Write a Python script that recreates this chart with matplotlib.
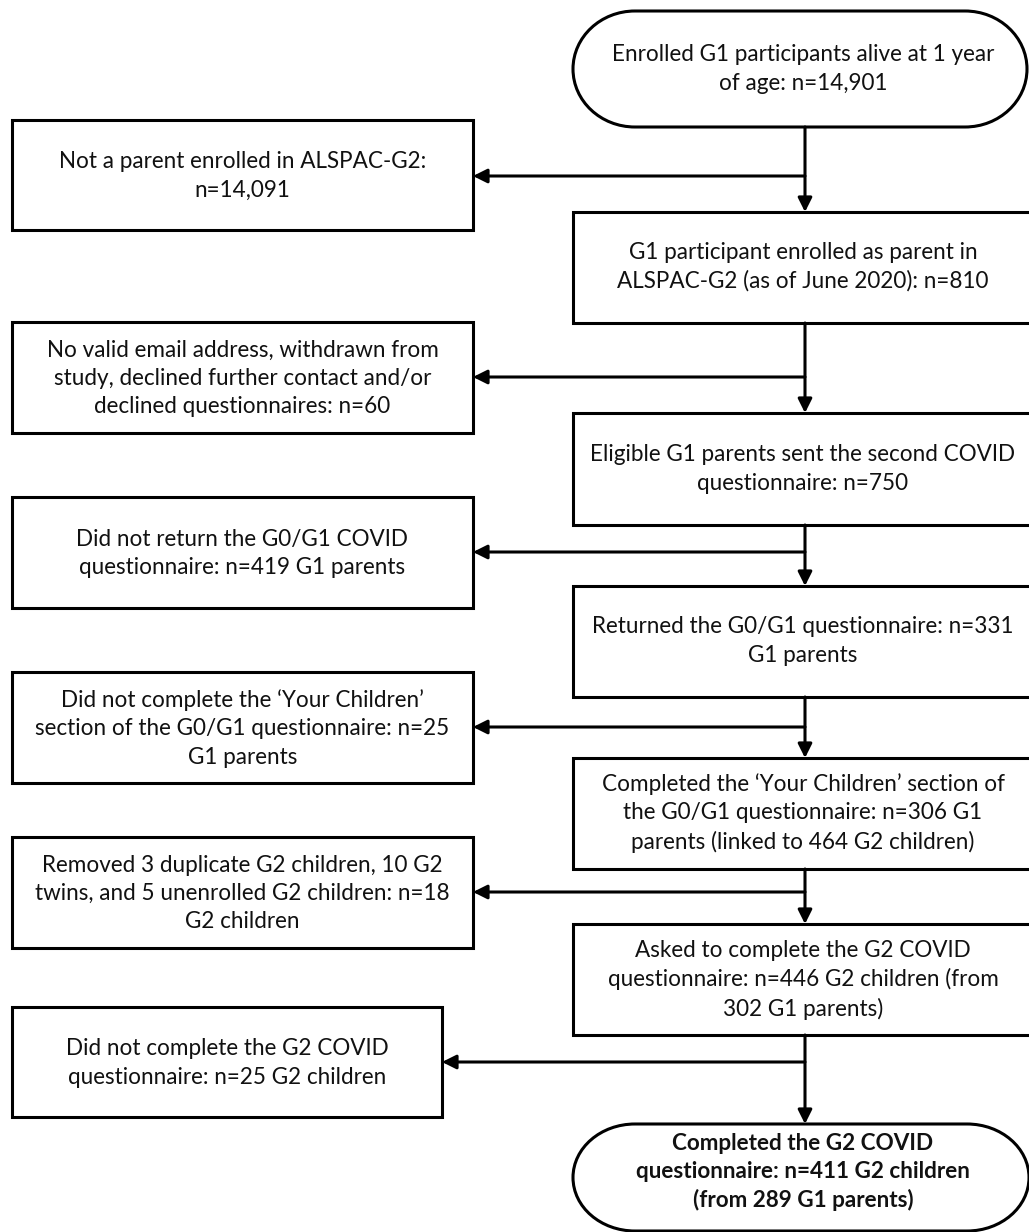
import matplotlib
matplotlib.use("Agg")
import matplotlib.pyplot as plt
from matplotlib.patches import Rectangle, PathPatch
from matplotlib.path import Path

# ---------------- data (texts) ----------------
main_texts = [
    "Enrolled G1 participants alive at 1 year\nof age: n=14,901",
    "G1 participant enrolled as parent in\nALSPAC-G2 (as of June 2020): n=810",
    "Eligible G1 parents sent the second COVID\nquestionnaire: n=750",
    "Returned the G0/G1 questionnaire: n=331\nG1 parents",
    "Completed the \u2018Your Children\u2019 section of\nthe G0/G1 questionnaire: n=306 G1\nparents (linked to 464 G2 children)",
    "Asked to complete the G2 COVID\nquestionnaire: n=446 G2 children (from\n302 G1 parents)",
    "Completed the G2 COVID\nquestionnaire: n=411 G2 children\n(from 289 G1 parents)",
]
side_texts = [
    "Not a parent enrolled in ALSPAC-G2:\nn=14,091",
    "No valid email address, withdrawn from\nstudy, declined further contact and/or\ndeclined questionnaires: n=60",
    "Did not return the G0/G1 COVID\nquestionnaire: n=419 G1 parents",
    "Did not complete the \u2018Your Children\u2019\nsection of the G0/G1 questionnaire: n=25\nG1 parents",
    "Removed 3 duplicate G2 children, 10 G2\ntwins, and 5 unenrolled G2 children: n=18\nG2 children",
    "Did not complete the G2 COVID\nquestionnaire: n=25 G2 children",
]

# ---------------- layout (pixels, y down) ----------------
W, H = 1029, 1232
main_x0, main_x1 = 573, 1035
term_x1 = [1027, 1029]
main_tops = [11, 212, 413, 586, 758, 924, 1124]
main_bots = [127, 323, 525, 697, 869, 1035, 1231]
main_text_y = [69, 267, 469, 641, 813, 980, 1172]
side_x0 = 12
side_x1 = [473, 473, 473, 473, 473, 442]
side_tops = [120, 322, 497, 672, 837, 1007]
side_bots = [230, 433, 608, 783, 948, 1117]
branch_y = [176, 377, 552, 727, 892, 1062]
line_x = 805
LW = 2.2
LS = 1.42

plt.rcParams['font.family'] = ['Lato', 'DejaVu Sans']

fig = plt.figure(figsize=(W / 100, H / 100), dpi=100)
ax = fig.add_axes([0, 0, 1, 1])
ax.set_xlim(0, W)
ax.set_ylim(H, 0)
ax.axis('off')

probe = ax.text(0, 0, "No valid email address, withdrawn from", fontsize=16)
fig.canvas.draw()
wpx = probe.get_window_extent().width
probe.remove()
FS = 16 * 394.0 / wpx


def terminator(x0, x1, y0, y1, rx):
    k = 0.5523
    ry = (y1 - y0) / 2.0
    yc = (y0 + y1) / 2.0
    a, b = x0 + rx, x1 - rx
    verts = [(a, y0), (b, y0),
             (b + k * rx, y0), (x1, yc - k * ry), (x1, yc),
             (x1, yc + k * ry), (b + k * rx, y1), (b, y1),
             (a, y1),
             (a - k * rx, y1), (x0, yc + k * ry), (x0, yc),
             (x0, yc - k * ry), (a - k * rx, y0), (a, y0),
             (a, y0)]
    codes = [Path.MOVETO, Path.LINETO,
             Path.CURVE4, Path.CURVE4, Path.CURVE4,
             Path.CURVE4, Path.CURVE4, Path.CURVE4,
             Path.LINETO,
             Path.CURVE4, Path.CURVE4, Path.CURVE4,
             Path.CURVE4, Path.CURVE4, Path.CURVE4,
             Path.CLOSEPOLY]
    return PathPatch(Path(verts, codes), fc='white', ec='black', lw=LW)


n = len(main_texts)
for i, txt in enumerate(main_texts):
    y0, y1 = main_tops[i], main_bots[i]
    if i == 0:
        ax.add_patch(terminator(main_x0, term_x1[0], y0, y1, 62))
    elif i == n - 1:
        ax.add_patch(terminator(main_x0, term_x1[1], y0, y1, 62))
    else:
        ax.add_patch(Rectangle((main_x0, y0), main_x1 - main_x0, y1 - y0,
                               fc='white', ec='black', lw=LW))
    ax.text(803, main_text_y[i], txt, ha='center', va='center', fontsize=FS,
            linespacing=LS, color='#111111',
            fontweight='bold' if i == n - 1 else 'normal')

for i, txt in enumerate(side_texts):
    y0, y1 = side_tops[i], side_bots[i]
    ax.add_patch(Rectangle((side_x0, y0), side_x1[i] - side_x0, y1 - y0,
                           fc='white', ec='black', lw=LW))
    ax.text((side_x0 + side_x1[i]) / 2, (y0 + y1) / 2 + 1, txt, ha='center', va='center',
            fontsize=FS, linespacing=LS, color='#111111')

arrow = dict(arrowstyle='-|>,head_length=0.6,head_width=0.3', color='black', lw=LW,
             shrinkA=0, shrinkB=0, mutation_scale=14)
for i in range(len(branch_y)):
    ax.annotate('', xy=(line_x, main_tops[i + 1]), xytext=(line_x, main_bots[i]),
                arrowprops=arrow)
    ax.annotate('', xy=(side_x1[i], branch_y[i]), xytext=(line_x, branch_y[i]),
                arrowprops=arrow)

fig.savefig('out.png', dpi=100, facecolor='white')
